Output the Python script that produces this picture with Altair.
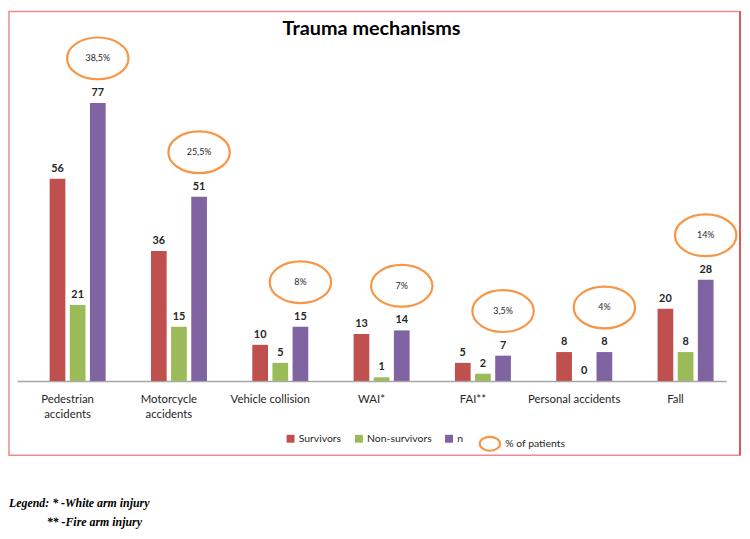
import altair as alt
import pandas as pd

# ---------------- data ----------------
categories = ["Pedestrian\naccidents", "Motorcycle\naccidents", "Vehicle collision",
              "WAI*", "FAI**", "Personal accidents", "Fall"]
survivors = [56, 36, 10, 13, 5, 8, 20]
non_survivors = [21, 15, 5, 1, 2, 0, 8]
n_total = [77, 51, 15, 14, 7, 8, 28]
pct_patients = ["38,5%", "25,5%", "8%", "7%", "3,5%", "4%", "14%"]
series_names = ["Survivors", "Non-survivors", "n"]
series_colors = ["#C0504D", "#9BBB59", "#8064A2"]
title_text = "Trauma mechanisms"
pct_legend_label = "% of patients"
footnote_lines = ["Legend: * -White arm injury", "** -Fire arm injury"]

# ---------------- tables ----------------
rows = []
for i, c in enumerate(categories):
    for s, vals in zip(series_names, [survivors, non_survivors, n_total]):
        rows.append({"category": c, "series": s, "value": vals[i]})
df = pd.DataFrame(rows)

pct_df = pd.DataFrame({
    "category": categories,
    "series": ["n"] * len(categories),
    "value": n_total,
    "pct": pct_patients,
    "key": [pct_legend_label] * len(categories),
})
one = pd.DataFrame({"t": [title_text]})
foot1 = pd.DataFrame({"t": [footnote_lines[0]]})
foot2 = pd.DataFrame({"t": [footnote_lines[1]]})

FONT = "Lato"
ORANGE = "#F79646"
TXT = "#262626"
RY = 0.68
ELLIPSE = (f"M 1 0 C 1 {0.5523*RY:.4f} 0.5523 {RY} 0 {RY} C -0.5523 {RY} -1 {0.5523*RY:.4f} -1 0 "
           f"C -1 {-0.5523*RY:.4f} -0.5523 {-RY} 0 {-RY} C 0.5523 {-RY} 1 {-0.5523*RY:.4f} 1 0 Z")

x_enc = alt.X(
    "category:N", sort=categories,
    scale=alt.Scale(paddingInner=0, paddingOuter=0),
    axis=alt.Axis(title=None, labelAngle=0, ticks=False, domainColor="#A6A6A6",
                  domainWidth=1.5, labelFont=FONT, labelFontSize=11.5,
                  labelColor=TXT, labelPadding=13, labelLineHeight=15,
                  labelOverlap=False, labelExpr="split(datum.label, '\\n')"),
)
xo_scale = alt.Scale(domain=["gap"] + series_names, paddingInner=0.22, paddingOuter=0.625)
xo_enc = alt.XOffset("series:N", scale=xo_scale)
xo_mid = alt.XOffset("series:N", scale=xo_scale, bandPosition=0.5)
y_enc = alt.Y("value:Q", scale=alt.Scale(domain=[0, 90], nice=False, zero=True), axis=None)

bars = alt.Chart(df).mark_bar().encode(
    x=x_enc, xOffset=xo_enc, y=y_enc,
    color=alt.Color("series:N", scale=alt.Scale(domain=series_names, range=series_colors),
                    legend=alt.Legend(orient="none", direction="horizontal", legendX=271,
                                      legendY=381, title=None, symbolType="square",
                                      symbolSize=64, symbolStrokeWidth=0, columnPadding=12,
                                      labelOffset=3, labelFont=FONT, labelFontSize=10.5,
                                      labelColor=TXT)),
)

labels = alt.Chart(df).mark_text(dy=-7, baseline="alphabetic", font=FONT, fontWeight="bold",
                                 fontSize=11, color=TXT).encode(
    x=x_enc, xOffset=xo_mid, y=y_enc, text="value:Q")

ellipses = alt.Chart(pct_df).mark_point(filled=False, color=ORANGE, strokeWidth=2.2, size=3844,
                                        yOffset=-45, opacity=1).encode(
    x=x_enc, xOffset=xo_mid, y=y_enc,
    shape=alt.Shape("key:N", scale=alt.Scale(domain=[pct_legend_label], range=[ELLIPSE]),
                    legend=alt.Legend(orient="none", legendX=466, legendY=380, title=None,
                                      symbolSize=420, symbolStrokeColor=ORANGE,
                                      symbolStrokeWidth=2.2, symbolFillColor="transparent",
                                      labelOffset=4, labelFont=FONT, labelFontSize=10.5,
                                      labelColor=TXT)),
)

pct_text = alt.Chart(pct_df).mark_text(dy=-45, baseline="middle", font=FONT, fontSize=9,
                                       color=TXT).encode(
    x=x_enc, xOffset=xo_mid, y=y_enc, text="pct:N")

title_layer = alt.Chart(one).mark_text(font=FONT, fontSize=20, fontWeight="bold", color="#000000",
                                       baseline="alphabetic", align="center").encode(
    x=alt.value(358), y=alt.value(-21), text="t:N")

border = alt.Chart(one).mark_rect(fill="transparent", stroke="#EE8A8A", strokeWidth=1.5).encode(
    x=alt.value(-8), x2=alt.value(730), y=alt.value(-45), y2=alt.value(403))
right_edge = alt.Chart(one).mark_rule(color="#D93A3A", strokeWidth=1.5).encode(
    x=alt.value(730), y=alt.value(-45), y2=alt.value(403))

foot_a = alt.Chart(foot1).mark_text(font="Liberation Serif", fontSize=12, fontStyle="italic",
                                    fontWeight="bold", color="#000000", align="left",
                                    baseline="alphabetic").encode(
    x=alt.value(-8), y=alt.value(455), text="t:N")
foot_b = alt.Chart(foot2).mark_text(font="Liberation Serif", fontSize=12, fontStyle="italic",
                                    fontWeight="bold", color="#000000", align="left",
                                    baseline="alphabetic").encode(
    x=alt.value(30), y=alt.value(474), text="t:N")

chart = alt.layer(border, right_edge, title_layer, bars, labels, ellipses, pct_text,
                  foot_a, foot_b).properties(
    width=716, height=328,
    autosize=alt.AutoSizeParams(type="none"),
    padding={"left": 9, "top": 46, "right": 16, "bottom": 148},
    background="white",
).configure_view(stroke=None)

chart.save("out.html", embed_options={"renderer": "svg", "actions": False})
